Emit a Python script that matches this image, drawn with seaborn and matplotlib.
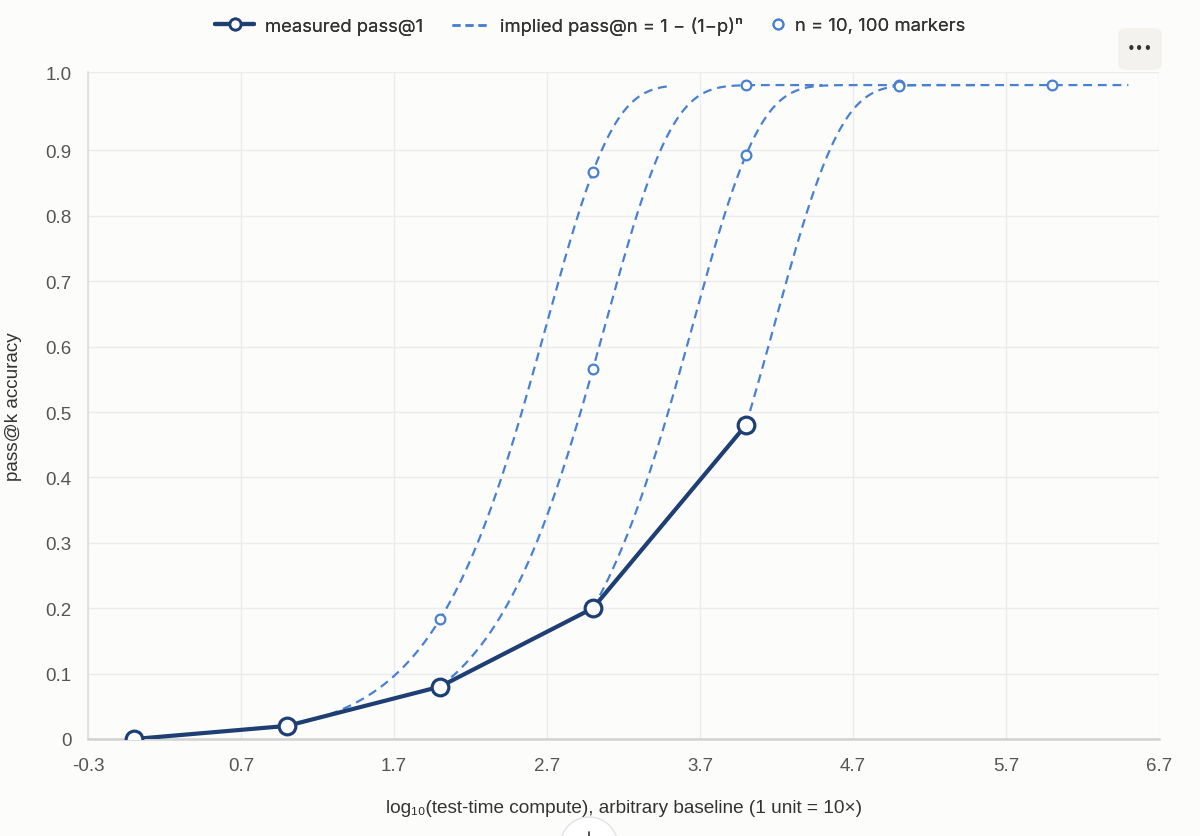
import numpy as np
import pandas as pd
import matplotlib
matplotlib.use("Agg")
import matplotlib.pyplot as plt
from matplotlib.lines import Line2D
from matplotlib.patches import FancyBboxPatch, Circle
import seaborn as sns

# ---- data ----
log_compute = [0, 1, 2, 3, 4]              # log10(test-time compute)
pass_at_1 = [0.0, 0.02, 0.08, 0.20, 0.48]  # measured pass@1
sample_counts = [10, 100]                  # n values shown as markers
curve_span = 2.5                           # each implied curve covers log10(n) in [0, 2.5]

x_ticks = [-0.3, 0.7, 1.7, 2.7, 3.7, 4.7, 5.7, 6.7]
x_tick_labels = ["-0.3", "0.7", "1.7", "2.7", "3.7", "4.7", "5.7", "6.7"]
y_ticks = [0, 0.1, 0.2, 0.3, 0.4, 0.5, 0.6, 0.7, 0.8, 0.9, 1.02]
y_tick_labels = ["0", "0.1", "0.2", "0.3", "0.4", "0.5", "0.6", "0.7", "0.8", "0.9", "1.0"]

legend_labels = ["measured pass@1", "implied pass@n = 1 \u2212 (1\u2212p)\u207f", "n = 10, 100 markers"]
x_label = "log\u2081\u2080(test-time compute), arbitrary baseline (1 unit = 10\u00d7)"
y_label = "pass@k accuracy"

NAVY = "#1e3f73"
BLUE = "#4a80d0"
BG = "#fcfcfb"
W, H = 1200, 837

# implied pass@n curves, as stated in the legend: 1 - (1 - p)^n
rows = []
mrows = []
for x0, p in zip(log_compute, pass_at_1):
    if p <= 0:
        continue
    t = np.linspace(0, curve_span, 300)
    for ti in t:
        rows.append({"src": x0, "x": x0 + ti, "y": 1 - (1 - p) ** (10 ** ti)})
    for n in sample_counts:
        mrows.append({"x": x0 + np.log10(n), "y": 1 - (1 - p) ** n})
curves = pd.DataFrame(rows)
marks = pd.DataFrame(mrows)
measured = pd.DataFrame({"x": log_compute, "y": pass_at_1})

sns.set_theme(style="white")
plt.rcParams["font.family"] = ["Liberation Sans", "DejaVu Sans"]

fig = plt.figure(figsize=(W / 100, H / 100), dpi=100, facecolor=BG)
ax = fig.add_axes([88 / W, 1 - 740 / H, (1159 - 88) / W, (740 - 73) / H])
ax.set_facecolor(BG)

DASH = (0, (4.0, 2.6))
for src, g in curves.groupby("src"):
    sns.lineplot(data=g, x="x", y="y", ax=ax, color=BLUE, lw=1.6,
                 linestyle=DASH, estimator=None, sort=False, zorder=3)
ax.plot(marks["x"], marks["y"], linestyle="none", marker="o", ms=7,
        mfc="white", mec=BLUE, mew=1.6, zorder=4)
sns.lineplot(data=measured, x="x", y="y", ax=ax, color=NAVY, lw=3.0,
             marker="o", markersize=12, markerfacecolor="white",
             markeredgecolor=NAVY, markeredgewidth=2.3, zorder=5)

ax.set_xlim(-0.3, 6.7)
ax.set_ylim(0, 1.02)
ax.set_xticks(x_ticks)
ax.set_xticklabels(x_tick_labels)
ax.set_yticks(y_ticks)
ax.set_yticklabels(y_tick_labels)
ax.grid(True, color="#ececec", lw=1)
ax.set_axisbelow(True)
for s in ["top", "right"]:
    ax.spines[s].set_visible(False)
ax.spines["left"].set_color("#dedede")
ax.spines["left"].set_linewidth(1.2)
ax.spines["bottom"].set_color("#d2d2d2")
ax.spines["bottom"].set_linewidth(1.8)
ax.tick_params(axis="both", length=9, width=1, color="#e4e4e4",
               labelcolor="#555555", labelsize=13.5, pad=3)
ax.tick_params(axis="x", pad=4)

ax.set_xlabel(x_label, fontsize=13.7, color="#333333")
ax.set_ylabel(y_label, fontsize=13.6, color="#333333")
ax.xaxis.set_label_coords(0.5, -0.09)
ax.yaxis.set_label_coords(-0.0616, 0.5)

# legend: three single-entry legends placed like the reference row
LEG_FONT = {"family": ["Inter", "DejaVu Sans"], "size": 13.3}
fs_px = 13.3 * 100 / 72
entries = [
    (Line2D([], [], color=NAVY, lw=3, marker="o", ms=8, mfc="white", mec=NAVY, mew=2),
     legend_labels[0], 215, 39, 11),
    (Line2D([], [], color=BLUE, lw=1.8, linestyle=(0, (3.2, 2.0))),
     legend_labels[1], 452, 34, 14),
    (Line2D([], [], linestyle="none", marker="o", ms=7, mfc="white", mec=BLUE, mew=1.6),
     legend_labels[2], 772, 12, 11),
]
for h, lab, x_px, hl_px, pad_px in entries:
    leg = fig.legend([h], [lab], loc="center left",
                     bbox_to_anchor=(x_px / W, 1 - 27 / H), frameon=False,
                     borderpad=0, borderaxespad=0, handlelength=hl_px / fs_px,
                     handletextpad=pad_px / fs_px, prop=LEG_FONT, labelcolor="#333333")
    fig.add_artist(leg)

# UI chrome: menu button and bottom handle
btn = FancyBboxPatch((1118 / W, 1 - 71 / H), 44 / W, 42 / H,
                     boxstyle="round,pad=0,rounding_size=0.008", transform=fig.transFigure,
                     facecolor="#f3f2ef", edgecolor="none", zorder=10)
fig.patches.append(btn)
fig.text(1140 / W, 1 - 50 / H, "\u2022\u2022\u2022", ha="center", va="center",
         fontsize=10.5, color="#333333", family=["DejaVu Sans"], zorder=12)
circ = Circle((589, H - 847), 29, transform=None, facecolor="white",
              edgecolor="#e2e2e2", lw=1, zorder=10)
fig.patches.append(circ)
fig.add_artist(Line2D([589 / W, 589 / W], [0, 4 / H], transform=fig.transFigure,
                      color="#333333", lw=1.2, zorder=12))

fig.savefig("out.png", dpi=100, facecolor=BG)
